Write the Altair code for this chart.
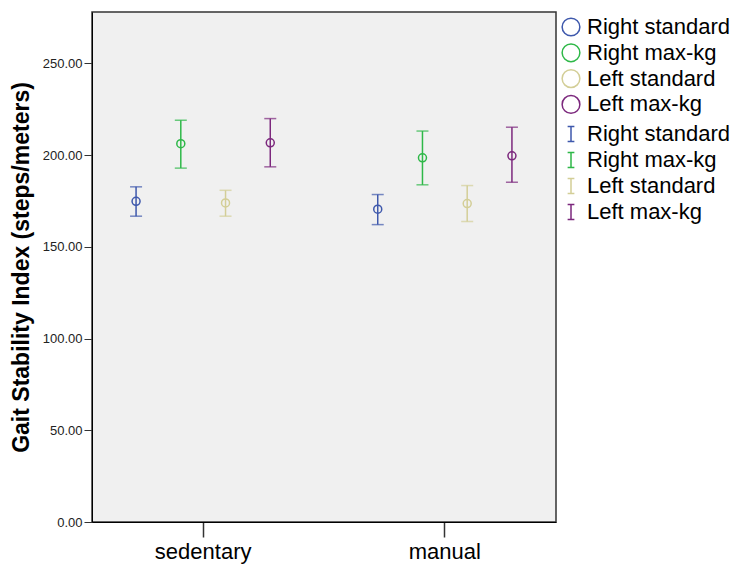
import altair as alt
import pandas as pd

groups = ["sedentary"] * 4 + ["manual"] * 4
series_names = ["Right standard", "Right max-kg", "Left standard", "Left max-kg"]
series = series_names * 2
means = [174.8, 206.2, 173.9, 206.7, 170.5, 198.5, 173.6, 199.6]
lower = [166.7, 192.9, 166.7, 193.6, 162.1, 183.8, 163.8, 185.2]
upper = [182.7, 219.0, 180.8, 219.9, 178.5, 213.1, 183.4, 215.2]
colors = ["#3E58AC", "#2EB848", "#D3CE97", "#7C287D"]
y_ticks = [0, 50, 100, 150, 200, 250]

df = pd.DataFrame({"group": groups, "series": series, "series_bar": series,
                   "mean": means, "lower": lower, "upper": upper})

FONT = "Liberation Sans"

x_enc = alt.X("group:N", sort=["sedentary", "manual"],
              scale=alt.Scale(paddingInner=0.08, paddingOuter=0.0),
              axis=alt.Axis(title=None, labelFontSize=22, labelColor="#000",
                            labelFont=FONT, tickSize=15, tickColor="#333",
                            tickWidth=1.5, labelPadding=4, domainColor="#000",
                            labelAngle=0))
xo_enc = alt.XOffset("series:N", sort=series_names,
                     scale=alt.Scale(paddingInner=0, paddingOuter=0.485))
y_scale = alt.Scale(domain=[0, 278], nice=False, zero=True)
y_axis = alt.Axis(title="Gait Stability Index (steps/meters)", values=y_ticks,
                  format=".2f", grid=False, labelFontSize=13, labelColor="#222",
                  labelFont=FONT, tickSize=8, tickColor="#333", labelPadding=2,
                  titleFont=FONT, titleFontSize=23, titleFontWeight="bold",
                  titleColor="#000", titlePadding=9, domainColor="#000")

base = alt.Chart(df)
scale_c = alt.Scale(domain=series_names, range=colors)

points = base.mark_point(filled=False, size=64, strokeWidth=1.5, opacity=1).encode(
    x=x_enc, xOffset=xo_enc,
    y=alt.Y("mean:Q", scale=y_scale, axis=y_axis),
    color=alt.Color("series:N", sort=series_names, scale=scale_c,
                    legend=alt.Legend(title=None, symbolType="circle",
                                      symbolSize=314, symbolStrokeWidth=1.5,
                                      symbolFillColor="transparent",
                                      labelFontSize=22, labelFont=FONT,
                                      labelColor="#000", labelOffset=5,
                                      rowPadding=1.8, padding=0,
                                      orient="none", legendX=468, legendY=4)),
)

rules = base.mark_rule(strokeWidth=1.5).encode(
    x=x_enc, xOffset=xo_enc,
    y=alt.Y("lower:Q", scale=y_scale),
    y2="upper:Q",
    stroke=alt.Stroke("series_bar:N", sort=series_names, scale=scale_c,
                      legend=alt.Legend(title=None,
                                        symbolType="M-0.45,-1H0.45M0,-1V1M-0.45,1H0.45",
                                        symbolSize=225, symbolStrokeWidth=1.5,
                                        symbolFillColor="transparent",
                                        labelFontSize=22, labelFont=FONT,
                                        labelColor="#000", labelOffset=5,
                                        rowPadding=4, padding=0,
                                        orient="none", legendX=468, legendY=111)),
)

cap_lo = base.mark_tick(orient="horizontal", size=12, thickness=1.5).encode(
    x=x_enc, xOffset=xo_enc,
    y=alt.Y("lower:Q", scale=y_scale),
    fill=alt.Fill("series:N", sort=series_names, scale=scale_c, legend=None),
)
cap_hi = base.mark_tick(orient="horizontal", size=12, thickness=1.5).encode(
    x=x_enc, xOffset=xo_enc,
    y=alt.Y("upper:Q", scale=y_scale),
    fill=alt.Fill("series:N", sort=series_names, scale=scale_c, legend=None),
)

chart = alt.layer(points, rules, cap_lo, cap_hi).resolve_scale(
    color="independent", stroke="independent"
).properties(
    width=464, height=510,
    autosize=alt.AutoSizeParams(type="none"),
    padding={"left": 92, "top": 12, "right": 177, "bottom": 43},
    background="#FFFFFF",
).configure_view(
    fill="#F0F0F0", stroke="#333", strokeWidth=1.5
)

chart.save("out.html", embed_options={"renderer": "svg", "actions": False})
